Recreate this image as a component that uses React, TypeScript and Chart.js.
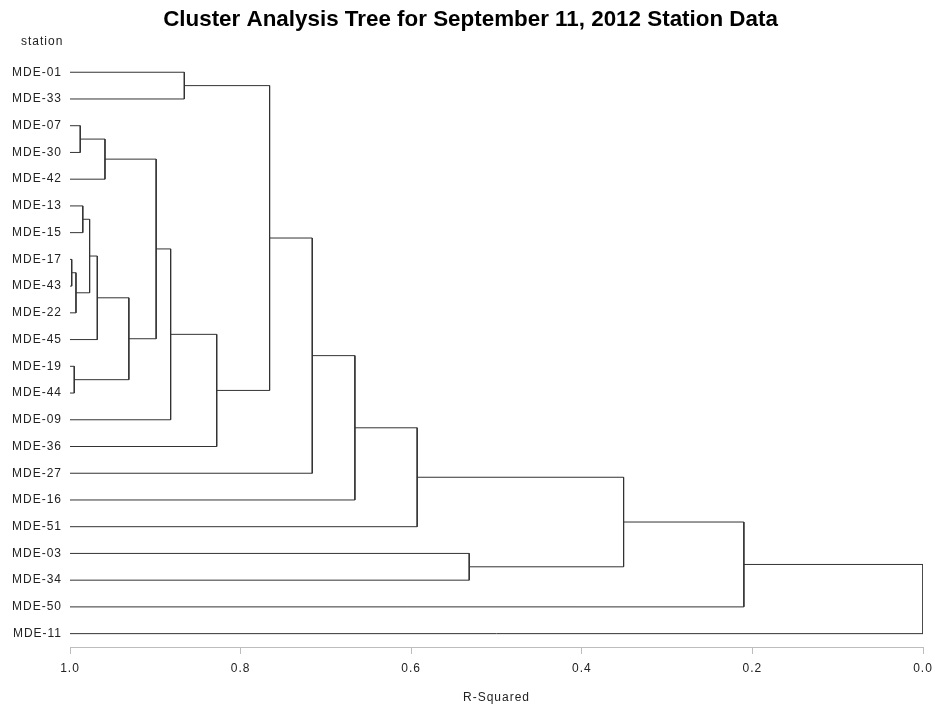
import React, { useEffect, useRef } from "react";
import { Chart, registerables } from "chart.js";

Chart.register(...registerables);

// Leaves in dendrogram order (top to bottom)
const stations = [
  "MDE-01", "MDE-33", "MDE-07", "MDE-30", "MDE-42", "MDE-13", "MDE-15",
  "MDE-17", "MDE-43", "MDE-22", "MDE-45", "MDE-19", "MDE-44", "MDE-09",
  "MDE-36", "MDE-27", "MDE-16", "MDE-51", "MDE-03", "MDE-34", "MDE-50", "MDE-11",
];

// Merge steps: ids 0..21 are leaves, 22+ are clusters created in this order
const mergeLeftIds = [7, 11, 22, 2, 5, 26, 27, 25, 28, 29, 31, 0, 32, 33, 35, 36, 37, 18, 38, 40, 41];
const mergeRightIds = [8, 12, 9, 3, 6, 24, 10, 4, 23, 30, 13, 1, 14, 34, 15, 16, 17, 19, 39, 20, 21];
const mergeRSquared = [0.998, 0.995, 0.993, 0.988, 0.985, 0.977, 0.968, 0.959, 0.931, 0.899, 0.882, 0.866, 0.828, 0.766, 0.716, 0.666, 0.593, 0.532, 0.351, 0.210, 0.0];

const xTickValues = [1.0, 0.8, 0.6, 0.4, 0.2, 0.0];
const titleText = "Cluster Analysis Tree for September 11, 2012 Station Data";
const yHeaderText = "station";
const xTitleText = "R-Squared";

const FONT = "'Liberation Sans', Arial, Helvetica, sans-serif";
const LINE = "#333333";
const TEXT = "#222222";
const AXIS = "#bdbdbd";

function buildDatasets() {
  const nodeY: number[] = stations.map((_, i) => i);
  const nodeH: number[] = stations.map(() => 1.0);
  const datasets: any[] = [];
  for (let k = 0; k < mergeRSquared.length; k++) {
    const a = mergeLeftIds[k];
    const b = mergeRightIds[k];
    const h = mergeRSquared[k];
    const ya = nodeY[a];
    const yb = nodeY[b];
    datasets.push({
      data: [
        { x: nodeH[a], y: ya },
        { x: h, y: ya },
        { x: h, y: yb },
        { x: nodeH[b], y: yb },
      ],
      showLine: true,
      borderColor: LINE,
      backgroundColor: LINE,
      borderWidth: 1,
      pointRadius: 0,
      tension: 0,
    });
    nodeY.push((ya + yb) / 2);
    nodeH.push(h);
  }
  return datasets;
}

const spacingPlugin = {
  id: "spacingAndHeader",
  afterDatasetsDraw(chart: any) {
    // axis texts (drawn on a later layer) get a little letter spacing
    (chart.ctx as any).letterSpacing = "1px";
  },
  afterDraw(chart: any) {
    const ctx = chart.ctx as any;
    ctx.save();
    ctx.letterSpacing = "1px";
    ctx.font = `12px ${FONT}`;
    ctx.fillStyle = TEXT;
    ctx.textAlign = "left";
    ctx.textBaseline = "middle";
    ctx.fillText(yHeaderText, 21, 42);
    ctx.restore();
    ctx.letterSpacing = "0px";
  },
};

export default function App() {
  const ref = useRef<HTMLCanvasElement | null>(null);
  useEffect(() => {
    if (!ref.current) return;
    const chart = new Chart(ref.current, {
      type: "scatter",
      data: { datasets: buildDatasets() },
      plugins: [spacingPlugin],
      options: {
        animation: false,
        responsive: false,
        layout: { padding: { left: 6, right: 0, top: 0, bottom: 0 } },
        plugins: {
          legend: { display: false },
          tooltip: { enabled: false },
          title: {
            display: true,
            text: titleText,
            color: "#000",
            font: { family: FONT, size: 22.4, weight: "bold" },
            padding: { top: 6, bottom: 26 },
          },
        },
        scales: {
          x: {
            type: "linear",
            reverse: true,
            min: 0,
            max: 1,
            afterBuildTicks: (scale: any) => {
              scale.ticks = xTickValues.map((v) => ({ value: v }));
            },
            afterFit: (scale: any) => {
              scale.height = 60;
              scale.paddingLeft = 0;
              scale.paddingRight = 12;
            },
            ticks: {
              color: TEXT,
              font: { family: FONT, size: 12 },
              padding: 7,
              maxRotation: 0,
              z: 1,
              callback: (v: any) => Number(v).toFixed(1),
            },
            grid: {
              display: true,
              drawOnChartArea: false,
              drawTicks: true,
              tickLength: 7,
              color: AXIS,
              z: 1,
            },
            border: { display: true, color: AXIS, z: 1 },
            title: {
              display: true,
              text: xTitleText,
              color: TEXT,
              font: { family: FONT, size: 12 },
              padding: { top: 4, bottom: 2 },
            },
          },
          y: {
            type: "linear",
            reverse: true,
            min: -0.5,
            max: stations.length - 0.5,
            afterBuildTicks: (scale: any) => {
              scale.ticks = stations.map((_, i) => ({ value: i }));
            },
            afterFit: (scale: any) => {
              scale.width = 64;
            },
            ticks: {
              color: TEXT,
              font: { family: FONT, size: 12 },
              padding: 8,
              autoSkip: false,
              z: 1,
              callback: (v: any) => stations[Math.round(Number(v))] ?? "",
            },
            grid: { display: false, drawTicks: false, tickLength: 0 },
            border: { display: false },
          },
        },
      },
    } as any);
    return () => chart.destroy();
  }, []);
  return (
    <div style={{ position: "absolute", left: 0, top: 0, width: 935, height: 707, background: "#fff" }}>
      <canvas ref={ref} width={935} height={707} style={{ display: "block" }} />
    </div>
  );
}
